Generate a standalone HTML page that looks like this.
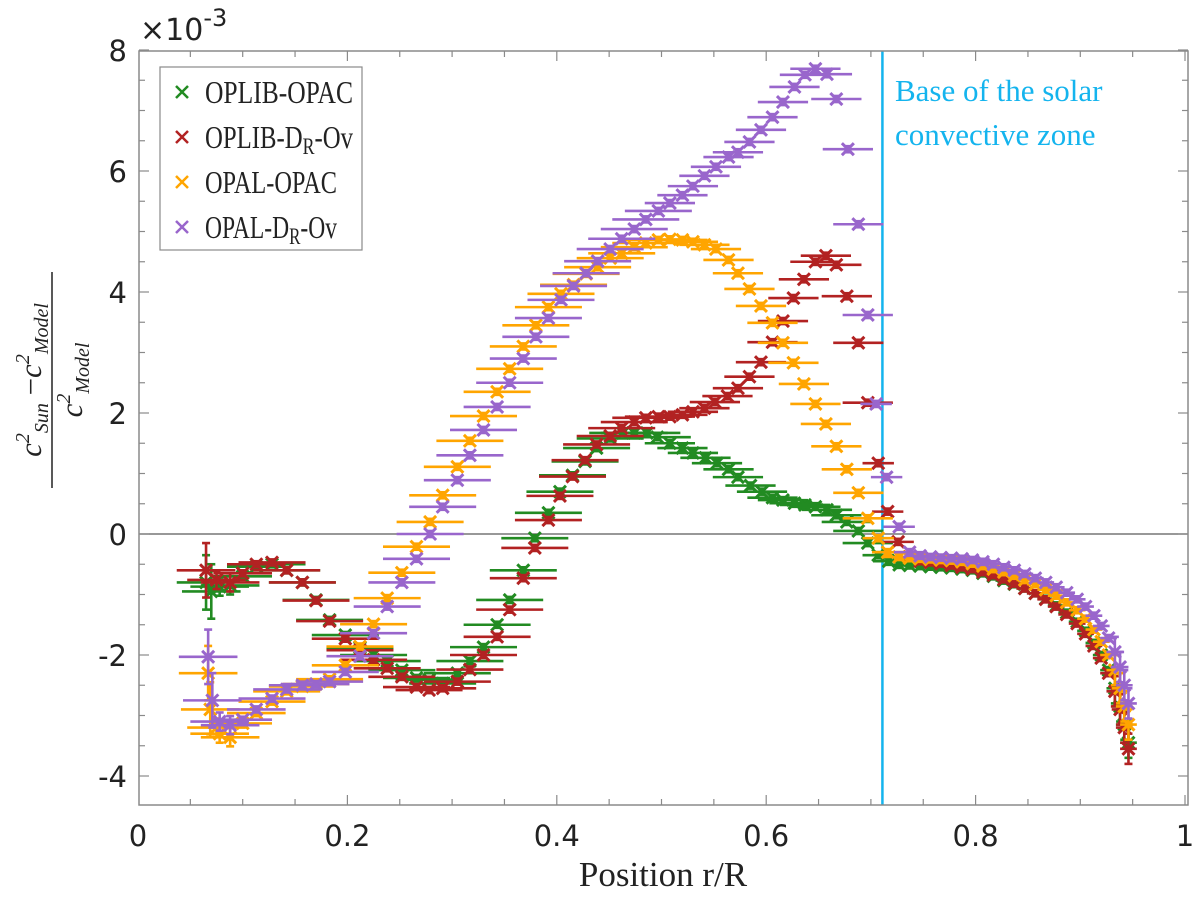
<!DOCTYPE html>
<html><head><meta charset="utf-8">
<style>
html,body{margin:0;padding:0;background:#fff;}
svg{display:block;}
</style></head>
<body>
<svg id="chart" width="1200" height="900" viewBox="0 0 1200 900" xmlns="http://www.w3.org/2000/svg">
  <rect x="0" y="0" width="1200" height="900" fill="#fff"/>
  <g id="grid"></g>
  <g id="marks"></g>
  <rect x="139" y="51" width="1049" height="754" fill="none" stroke="#8a8a8a" stroke-width="1.5"/>
  <g id="axes"></g>
  <text x="140" y="40" font-family="'DejaVu Sans','Liberation Sans',sans-serif" font-size="30" fill="#222">×10<tspan dy="-14" font-size="24">-3</tspan></text>
  <text x="663" y="886" text-anchor="middle" font-family="'Liberation Serif',serif" font-size="35" fill="#222">Position r/R</text>
  <g transform="translate(52,380) rotate(-90)" font-family="'Liberation Serif',serif" font-style="italic" fill="#222">
    <text x="0" y="-11" text-anchor="middle" font-size="31">c<tspan dy="-12" font-size="20">2</tspan><tspan dy="19" font-size="20">Sun</tspan><tspan dy="-7" font-style="normal"> −</tspan>c<tspan dy="-12" font-size="20">2</tspan><tspan dy="19" font-size="20">Model</tspan></text>
    <line x1="-108" y1="0" x2="108" y2="0" stroke="#222" stroke-width="1.5"/>
    <text x="0" y="30" text-anchor="middle" font-size="31">c<tspan dy="-12" font-size="20">2</tspan><tspan dy="19" font-size="20">Model</tspan></text>
  </g>
  <g>
    <rect x="160" y="67" width="202" height="183" fill="#fff" stroke="#8a8a8a" stroke-width="1.2"/>
    <g id="legend-entries"></g>
  </g>
  <text font-family="'Liberation Serif',serif" font-size="31" fill="#14b4ee"><tspan x="895" y="101">Base of the solar</tspan><tspan x="895" y="145">convective zone</tspan></text>
</svg>
<script>
// ---- data (values in units of 1e-3, x in r/R) ----
const oplibOpacX = [0.065,0.07,0.078,0.088,0.1,0.113,0.128,0.142,0.157,0.17,0.183,0.198,0.212,0.225,0.238,0.252,0.266,0.278,0.291,0.305,0.317,0.33,0.343,0.355,0.368,0.379,0.392,0.403,0.415,0.427,0.438,0.451,0.463,0.474,0.486,0.496,0.508,0.52,0.53,0.542,0.553,0.564,0.573,0.585,0.596,0.606,0.616,0.627,0.637,0.647,0.658,0.667,0.677,0.688,0.697,0.707,0.717,0.727,0.737,0.747,0.757,0.767,0.777,0.787,0.797,0.807,0.817,0.827,0.837,0.847,0.857,0.867,0.877,0.887,0.897,0.905,0.913,0.92,0.927,0.933,0.938,0.942,0.946];
const oplibOpacY = [-0.8,-0.95,-0.87,-0.85,-0.7,-0.54,-0.5,-0.6,-0.8,-1.09,-1.42,-1.67,-1.88,-2.0,-2.1,-2.25,-2.38,-2.41,-2.47,-2.3,-2.1,-1.87,-1.5,-1.09,-0.6,-0.07,0.35,0.7,0.97,1.2,1.42,1.58,1.67,1.67,1.67,1.6,1.5,1.42,1.34,1.26,1.17,1.07,0.94,0.8,0.7,0.6,0.56,0.51,0.48,0.45,0.4,0.31,0.2,0.05,-0.15,-0.35,-0.45,-0.51,-0.52,-0.53,-0.54,-0.55,-0.56,-0.58,-0.6,-0.65,-0.7,-0.77,-0.83,-0.9,-0.98,-1.07,-1.18,-1.3,-1.45,-1.6,-1.8,-2.0,-2.25,-2.55,-2.85,-3.15,-3.45];
const oplibDrX = [0.065,0.075,0.088,0.1,0.113,0.128,0.142,0.157,0.17,0.183,0.198,0.212,0.225,0.238,0.252,0.266,0.278,0.291,0.305,0.317,0.33,0.343,0.355,0.368,0.379,0.392,0.403,0.415,0.427,0.438,0.451,0.462,0.474,0.485,0.497,0.508,0.52,0.53,0.541,0.551,0.563,0.573,0.584,0.595,0.606,0.616,0.626,0.636,0.647,0.657,0.667,0.677,0.688,0.697,0.707,0.716,0.726,0.737,0.747,0.757,0.767,0.777,0.787,0.797,0.807,0.817,0.827,0.837,0.847,0.857,0.867,0.877,0.887,0.897,0.905,0.913,0.92,0.927,0.933,0.938,0.942,0.946];
const oplibDrY = [-0.6,-0.76,-0.8,-0.65,-0.5,-0.47,-0.6,-0.8,-1.1,-1.44,-1.73,-1.92,-2.08,-2.22,-2.36,-2.53,-2.58,-2.55,-2.44,-2.24,-2.0,-1.7,-1.25,-0.73,-0.23,0.23,0.63,0.95,1.22,1.48,1.62,1.75,1.85,1.92,1.94,1.94,1.97,2.02,2.08,2.18,2.28,2.41,2.6,2.84,3.17,3.52,3.9,4.21,4.5,4.6,4.45,3.93,3.16,2.17,1.17,0.37,-0.13,-0.38,-0.45,-0.47,-0.49,-0.52,-0.55,-0.58,-0.63,-0.68,-0.75,-0.82,-0.9,-0.98,-1.08,-1.2,-1.33,-1.48,-1.65,-1.85,-2.05,-2.3,-2.6,-2.9,-3.2,-3.55];
const opalOpacX = [0.067,0.069,0.075,0.078,0.088,0.1,0.113,0.128,0.142,0.157,0.17,0.183,0.198,0.212,0.225,0.238,0.252,0.266,0.279,0.291,0.305,0.317,0.33,0.343,0.355,0.368,0.38,0.392,0.404,0.416,0.428,0.439,0.451,0.462,0.474,0.485,0.497,0.508,0.52,0.53,0.541,0.552,0.564,0.573,0.584,0.595,0.606,0.616,0.626,0.636,0.647,0.657,0.667,0.677,0.688,0.697,0.707,0.716,0.727,0.737,0.747,0.757,0.767,0.777,0.787,0.797,0.807,0.817,0.827,0.837,0.847,0.857,0.867,0.877,0.887,0.897,0.905,0.913,0.92,0.927,0.933,0.938,0.942,0.946];
const opalOpacY = [-2.3,-2.9,-3.2,-3.3,-3.36,-3.13,-2.96,-2.77,-2.6,-2.52,-2.48,-2.4,-2.17,-1.86,-1.49,-1.06,-0.64,-0.21,0.2,0.64,1.11,1.54,1.95,2.35,2.73,3.1,3.45,3.75,3.97,4.12,4.3,4.41,4.56,4.64,4.74,4.81,4.86,4.87,4.86,4.83,4.78,4.71,4.53,4.31,4.05,3.77,3.49,3.16,2.83,2.48,2.15,1.82,1.45,1.07,0.68,0.26,-0.07,-0.3,-0.38,-0.4,-0.41,-0.42,-0.43,-0.44,-0.46,-0.49,-0.53,-0.58,-0.63,-0.69,-0.76,-0.83,-0.92,-1.02,-1.13,-1.26,-1.4,-1.58,-1.78,-2.0,-2.25,-2.55,-2.85,-3.15];
const opalDrX = [0.067,0.071,0.078,0.088,0.1,0.113,0.128,0.142,0.157,0.17,0.183,0.198,0.212,0.225,0.238,0.252,0.266,0.279,0.291,0.305,0.317,0.33,0.343,0.355,0.368,0.38,0.392,0.404,0.416,0.428,0.439,0.451,0.462,0.474,0.485,0.497,0.508,0.52,0.53,0.541,0.552,0.564,0.573,0.584,0.595,0.606,0.616,0.627,0.637,0.647,0.658,0.667,0.678,0.688,0.697,0.705,0.715,0.727,0.737,0.747,0.757,0.767,0.777,0.787,0.797,0.807,0.817,0.827,0.837,0.847,0.857,0.867,0.877,0.887,0.897,0.905,0.913,0.92,0.927,0.933,0.938,0.942,0.946];
const opalDrY = [-2.03,-2.75,-3.1,-3.16,-3.07,-2.9,-2.72,-2.57,-2.5,-2.48,-2.44,-2.28,-2.02,-1.64,-1.2,-0.8,-0.41,0.0,0.45,0.89,1.3,1.72,2.1,2.5,2.9,3.26,3.57,3.87,4.1,4.31,4.51,4.71,4.88,5.04,5.2,5.34,5.47,5.6,5.75,5.92,6.07,6.23,6.31,6.48,6.68,6.89,7.14,7.39,7.59,7.69,7.6,7.19,6.36,5.12,3.62,2.15,0.94,0.12,-0.3,-0.36,-0.38,-0.39,-0.4,-0.41,-0.43,-0.46,-0.5,-0.55,-0.6,-0.66,-0.73,-0.8,-0.88,-0.97,-1.08,-1.2,-1.35,-1.52,-1.72,-1.95,-2.2,-2.5,-2.8,-3.1];
const seriesNames = ["OPLIB-OPAC","OPLIB-DR-Ov","OPAL-OPAC","OPAL-DR-Ov"];
const xTicks = [0,0.2,0.4,0.6,0.8,1];
const xTickLabels = ["0","0.2","0.4","0.6","0.8","1"];
const yTicks = [-4,-2,0,2,4,6,8];
const yTickLabels = ["-4","-2","0","2","4","6","8"];
const convectiveBase = 0.711;

// ---- axes ----
const X0 = 138, X1 = 1185, Y0 = 534, YU = 60.5;
const PL = 139, PR = 1188, PT = 51, PB = 805;
function sx(v){ return X0 + v*(X1-X0); }
function sy(v){ return Y0 - v*YU; }
const NS = "http://www.w3.org/2000/svg";
function mk(tag, attrs, parent){ const e=document.createElementNS(NS,tag); for(const k in attrs) e.setAttribute(k,attrs[k]); parent.appendChild(e); return e; }

const axes = document.getElementById('axes');
const grid = document.getElementById('grid');
const zl = mk('line',{x1:PL,x2:PR,y1:sy(0),y2:sy(0),stroke:'#777','stroke-width':1.5},grid);


const cb = mk('line',{x1:sx(convectiveBase),x2:sx(convectiveBase),y1:PT,y2:PB,stroke:'#14b4ee','stroke-width':2.5},grid);



for(let i=0;i<=20;i++){
  const v=i*0.05, x=sx(v);
  if(x<PL||x>PR) continue;
  const L = (i%4===0)?10:6;
  mk('line',{x1:x,x2:x,y1:PB,y2:PB-L,stroke:'#8a8a8a','stroke-width':1.2},axes);
  mk('line',{x1:x,x2:x,y1:PT,y2:PT+L,stroke:'#8a8a8a','stroke-width':1.2},axes);
}
for(let i=-9;i<=16;i++){
  const v=i*0.5, y=sy(v);
  if(y<PT-1||y>PB) continue;
  const L = (i%4===0)?10:6;
  mk('line',{x1:PL,x2:PL+L,y1:y,y2:y,stroke:'#8a8a8a','stroke-width':1.2},axes);
  mk('line',{x1:PR,x2:PR-L,y1:y,y2:y,stroke:'#8a8a8a','stroke-width':1.2},axes);
}
xTicks.forEach((v,i)=>{
  const t = mk('text',{x:sx(v),y:846,'text-anchor':'middle','font-family':"'DejaVu Sans','Liberation Sans',sans-serif",'font-size':29,fill:'#222'},axes);
  t.textContent = xTickLabels[i];
  
  
});
yTicks.forEach((v,i)=>{
  const t = mk('text',{x:127,y:sy(v)+11,'text-anchor':'end','font-family':"'DejaVu Sans','Liberation Sans',sans-serif",'font-size':29,fill:'#222'},axes);
  t.textContent = yTickLabels[i];
  
  
});

// ---- marks ----
const colors = ['#228b22','#b22222','#ffa500','#9966cc'];
const data = [[oplibOpacX,oplibOpacY],[oplibDrX,oplibDrY],[opalOpacX,opalOpacY],[opalDrX,opalDrY]];
const marks = document.getElementById('marks');
function xerrFor(x){ if(x<0.12) return 0.028; if(x<0.5) return 0.032; if(x<0.7) return 0.024; if(x<0.8) return 0.015; return 0.008; }
function yerrFor(x){ if(x<0.075) return 0.45; if(x>0.93) return 0.25; if(x<0.1) return 0.15; return 0.05; }
data.forEach((d,si)=>{
  const g = mk('g',{},marks);
  
  
  const c = colors[si];
  d[0].forEach((xv,i)=>{
    const yv = d[1][i];
    const px = sx(xv), py = sy(yv);
    const ex = xerrFor(xv)*(X1-X0), ey = yerrFor(xv)*YU;
    const pt = mk('g',{stroke:c,'stroke-width':2.6,fill:'none'},g);
    
    
    mk('line',{x1:px-ex,x2:px+ex,y1:py,y2:py},pt);
    mk('line',{x1:px,x2:px,y1:py-ey,y2:py+ey},pt);
    mk('line',{x1:px-4,x2:px+4,y1:py-ey,y2:py-ey},pt);
    mk('line',{x1:px-4,x2:px+4,y1:py+ey,y2:py+ey},pt);
    mk('path',{d:`M${px-6},${py-6}L${px+6},${py+6}M${px-6},${py+6}L${px+6},${py-6}`,'stroke-width':3},pt);
  });
});

// ---- legend ----
const le = document.getElementById('legend-entries');
const legendLabels = [['OPLIB-OPAC'],['OPLIB-D','R','-Ov'],['OPAL-OPAC'],['OPAL-D','R','-Ov']];
const legendWidths = [148,148,132,132];
legendLabels.forEach((lab,i)=>{
  const y = 92 + i*45;
  const g = mk('g',{},le);
  
  
  mk('path',{d:`M176,${y-6}L188,${y+6}M176,${y+6}L188,${y-6}`,stroke:colors[i],'stroke-width':2.5},g);
  const t = mk('text',{x:205,y:y+11,'font-family':"'Liberation Serif',serif",'font-size':32,fill:'#222',textLength:legendWidths[i],lengthAdjust:'spacingAndGlyphs'},g);
  if(lab.length===3){
    t.appendChild(document.createTextNode(lab[0]));
    const s1 = mk('tspan',{'font-size':23,dy:6},t); s1.textContent=lab[1];
    const s2 = mk('tspan',{dy:-6},t); s2.textContent=lab[2];
  } else t.textContent = lab[0];
});
</script>
</body></html>
